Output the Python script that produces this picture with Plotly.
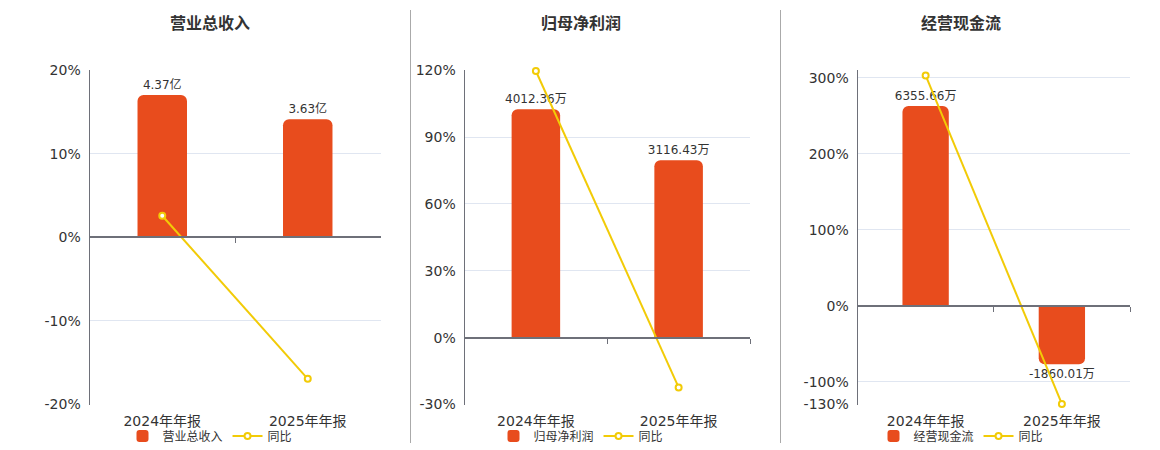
import plotly.graph_objects as go

categories = ["2024年年报", "2025年年报"]

titles = ["营业总收入", "归母净利润", "经营现金流"]
bar_names = ["营业总收入", "归母净利润", "经营现金流"]

revenue = [4.37, 3.63]            # 亿
revenue_labels = ["4.37亿", "3.63亿"]
revenue_yoy = [2.59, -16.93]      # %

profit = [4012.36, 3116.43]       # 万
profit_labels = ["4012.36万", "3116.43万"]
profit_yoy = [119.7, -22.33]

cash = [6355.66, -1860.01]        # 万
cash_labels = ["6355.66万", "-1860.01万"]
cash_yoy = [303.2, -129.27]

pct_ranges = [[-20, 20], [-30, 120], [-130, 310]]
pct_ticks = [[-20, -10, 0, 10, 20], [-30, 0, 30, 60, 90, 120], [-130, -100, 0, 100, 200, 300, 310]]
pct_ticktext = [["-20%", "-10%", "0%", "10%", "20%"],
                ["-30%", "0%", "30%", "60%", "90%", "120%"],
                ["-130%", "-100%", "0%", "100%", "200%", "300%", ""]]
bar_ranges = [[-5.13, 5.13], [-1174.65, 4698.6], [-3142.0, 7492.0]]

bars = [revenue, profit, cash]
labels = [revenue_labels, profit_labels, cash_labels]
yoys = [revenue_yoy, profit_yoy, cash_yoy]

W, H = 1160, 450
x_doms = [[89.5 / W, 380.5 / W], [464.5 / W, 750 / W], [857.5 / W, 1130 / W]]
y_dom = [1 - 404.5 / H, 1 - 70.3 / H]
title_x = [210, 581, 961]

BAR_COLOR = "#E84C1D"
LINE_COLOR = "#F2CB07"
TEXT = "#333333"
AXIS = "#6E7079"
GRID = "#E0E6F1"
FONT = "DejaVu Sans, Noto Sans CJK SC, sans-serif"

fig = go.Figure()
layout = {}

for i in range(3):
    n = i + 1
    xa = f"x{n if n > 1 else ''}"
    ya_bar = f"y{n if n > 1 else ''}"
    ya_pct = f"y{n + 3}"
    xa_zero = f"x{n + 3}"
    legend_id = "legend" if n == 1 else f"legend{n}"

    fig.add_trace(go.Bar(
        x=categories, y=bars[i], name=bar_names[i],
        xaxis=xa, yaxis=ya_bar,
        marker=dict(color=BAR_COLOR, line=dict(width=0)),
        width=0.34,
        text=labels[i], textposition="outside", cliponaxis=False,
        textfont=dict(size=12, color=TEXT, family=FONT),
        constraintext="none",
        legend=legend_id, hoverinfo="skip",
    ))
    # invisible helper trace so the zero-line axis gets drawn
    fig.add_trace(go.Scatter(
        x=categories, y=[None, None], xaxis=xa_zero, yaxis=ya_pct,
        mode="markers", showlegend=False, hoverinfo="skip",
    ))
    fig.add_trace(go.Scatter(
        x=categories, y=yoys[i], name="同比",
        xaxis=xa, yaxis=ya_pct, mode="lines+markers",
        line=dict(color=LINE_COLOR, width=2),
        marker=dict(symbol="circle", size=6, color="white",
                    line=dict(color=LINE_COLOR, width=2)),
        cliponaxis=False,
        legend=legend_id, hoverinfo="skip",
    ))

    xkey = "xaxis" if n == 1 else f"xaxis{n}"
    ykey = "yaxis" if n == 1 else f"yaxis{n}"
    layout[xkey] = dict(
        domain=x_doms[i], anchor=ya_bar, type="category",
        range=[-0.5, 1.5], showline=False, showgrid=False, ticks="",
        tickfont=dict(size=14, color=TEXT, family=FONT),
        ticklabelstandoff=6,
        fixedrange=True,
    )
    # base axis: bar values (hidden)
    layout[ykey] = dict(
        domain=y_dom, anchor=xa, range=bar_ranges[i],
        visible=False, showgrid=False, zeroline=False,
    )
    # overlay axis: percent (visible)
    layout[f"yaxis{n + 3}"] = dict(
        domain=y_dom, anchor=xa, overlaying=ya_bar, side="left",
        range=pct_ranges[i],
        tickmode="array", tickvals=pct_ticks[i], ticktext=pct_ticktext[i],
        showline=True, linecolor=AXIS, linewidth=1,
        showgrid=True, gridcolor=GRID, gridwidth=1,
        zeroline=False, ticks="",
        tickfont=dict(size=14, color=TEXT, family=FONT),
        ticklabelstandoff=5,
    )
    # zero-line axis with boundary ticks
    lo, hi = pct_ranges[i]
    zero_pos = y_dom[0] + (0 - lo) / (hi - lo) * (y_dom[1] - y_dom[0])
    layout[f"xaxis{n + 3}"] = dict(
        domain=x_doms[i], overlaying=xa, anchor="free", position=zero_pos,
        type="category", range=[-0.5, 1.5], tickson="boundaries",
        showticklabels=False,
        ticks="outside", ticklen=5, tickcolor=AXIS, tickwidth=1,
        showline=True, linecolor=AXIS, linewidth=2,
        showgrid=False, zeroline=False,
    )
    layout[legend_id] = dict(
        orientation="h", x=title_x[i] / W, xanchor="center",
        y=1 - 436 / H, yanchor="middle",
        font=dict(size=12, color=TEXT, family=FONT),
        bgcolor="rgba(0,0,0,0)", itemwidth=30, tracegroupgap=0,
    )

annotations = [
    dict(text=f"<b>{titles[i]}</b>", x=title_x[i] / W, y=1 - 23 / H,
         xref="paper", yref="paper", xanchor="center", yanchor="middle",
         showarrow=False, font=dict(size=16, color=TEXT, family=FONT))
    for i in range(3)
]

shapes = [
    dict(type="line", xref="paper", yref="paper", x0=sx / W, x1=sx / W,
         y0=1 - 10 / H, y1=1 - 443 / H, line=dict(color="#AAAAAA", width=1))
    for sx in (410.5, 780.5)
]

fig.update_layout(
    width=W, height=H,
    margin=dict(l=0, r=0, t=0, b=0, autoexpand=False),
    paper_bgcolor="white", plot_bgcolor="white",
    font=dict(family=FONT, color=TEXT),
    barcornerradius=6, showlegend=True,
    annotations=annotations, shapes=shapes,
    **layout,
)

fig.write_html(
    "out.html",
    config={"displayModeBar": False},
    post_script="document.body.style.margin='0';document.body.style.overflow='hidden';",
)
